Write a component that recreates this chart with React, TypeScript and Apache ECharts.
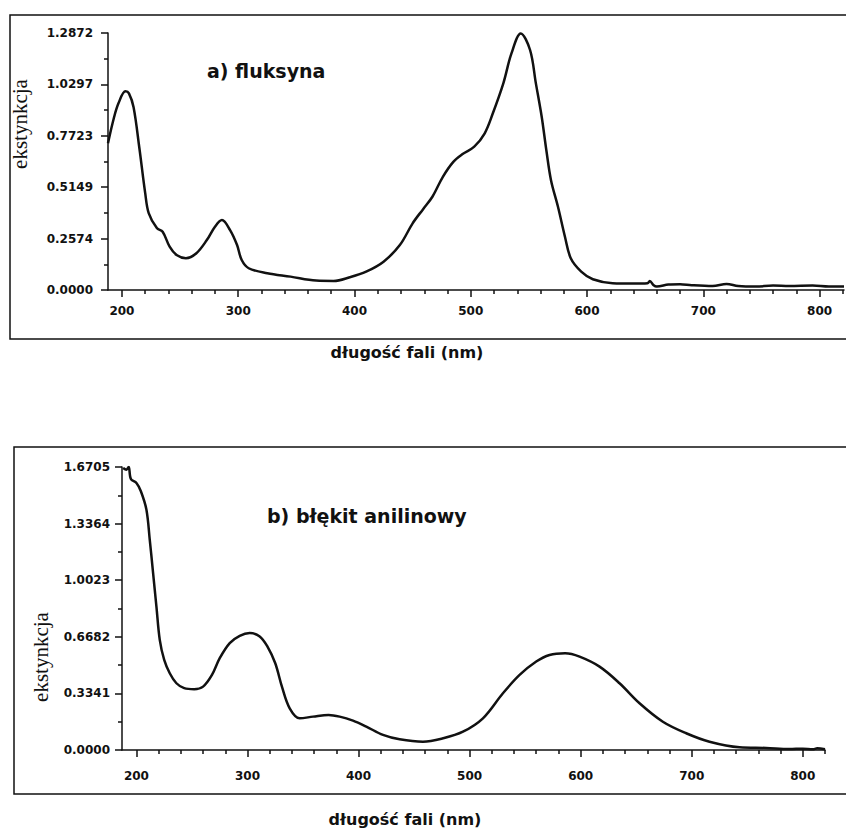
import React, { useEffect, useRef } from "react";
import * as echarts from "echarts";

// ---- data: a) fluksyna ----
const waveA = [188, 193, 197, 203, 206, 210, 215, 220, 223, 230, 235, 241, 247, 255, 264, 273, 280, 286, 293, 299, 303, 309, 325, 345, 367, 382, 396, 410, 425, 439, 450, 459, 467, 476, 485, 493, 503, 512, 519, 528, 535, 543, 551, 556, 561, 565, 569, 575, 581, 586, 595, 605, 622, 640, 652, 654, 657, 660, 670, 680, 690, 708, 720, 730, 745, 760, 774, 794, 808, 821];
const absA = [0.735, 0.86, 0.935, 0.995, 0.985, 0.915, 0.71, 0.485, 0.385, 0.31, 0.292, 0.217, 0.175, 0.159, 0.184, 0.25, 0.317, 0.35, 0.3, 0.225, 0.15, 0.109, 0.084, 0.067, 0.047, 0.045, 0.064, 0.092, 0.142, 0.225, 0.334, 0.405, 0.467, 0.567, 0.642, 0.681, 0.718, 0.785, 0.885, 1.035, 1.185, 1.285, 1.202, 1.035, 0.868, 0.7, 0.55, 0.417, 0.267, 0.159, 0.092, 0.054, 0.034, 0.032, 0.034, 0.045, 0.025, 0.017, 0.027, 0.029, 0.024, 0.02, 0.03, 0.02, 0.017, 0.022, 0.02, 0.022, 0.017, 0.017];

// ---- data: b) błękit anilinowy ----
const waveB = [188, 191, 193, 195, 200, 204, 209, 212, 215, 218, 221, 225, 230, 236, 243, 252, 260, 268, 275, 284, 293, 302, 311, 318, 325, 331, 338, 347, 359, 373, 383, 395, 407, 422, 437, 458, 476, 494, 512, 530, 545, 560, 572, 586, 599, 617, 635, 653, 674, 695, 716, 743, 767, 788, 800, 809, 813, 820];
const absB = [1.665, 1.655, 1.67, 1.6, 1.576, 1.527, 1.418, 1.241, 1.044, 0.847, 0.65, 0.532, 0.453, 0.394, 0.365, 0.359, 0.374, 0.443, 0.542, 0.631, 0.674, 0.69, 0.67, 0.61, 0.512, 0.374, 0.246, 0.187, 0.197, 0.207, 0.197, 0.173, 0.138, 0.089, 0.063, 0.049, 0.069, 0.108, 0.187, 0.335, 0.443, 0.522, 0.561, 0.571, 0.551, 0.492, 0.394, 0.276, 0.167, 0.099, 0.049, 0.016, 0.012, 0.006, 0.008, 0.004, 0.01, 0.005];

// ---- ticks ----
const xMajor = [200, 300, 400, 500, 600, 700, 800];
const xMinor = [220, 240, 260, 280, 320, 340, 360, 380, 420, 440, 460, 480, 520, 540, 560, 580, 620, 640, 660, 680, 720, 740, 760, 780, 820];
const yTicksA = ["0.0000", "0.2574", "0.5149", "0.7723", "1.0297", "1.2872"];
const yTicksB = ["0.0000", "0.3341", "0.6682", "1.0023", "1.3364", "1.6705"];

// ---- texts ----
const titleA = "a) fluksyna";
const titleB = "b) błękit anilinowy";
const xName = "długość fali (nm)";
const yName = "ekstynkcja";

const INK = "#111";
const SANS = "'DejaVu Sans', sans-serif";
const SERIF = "'Liberation Serif', 'DejaVu Serif', serif";

export default function App() {
  const ref = useRef<HTMLDivElement>(null);

  useEffect(() => {
    if (!ref.current) return;
    const chart = echarts.init(ref.current, undefined, { renderer: "svg" });

    const yVals = (labels: string[]) => labels.map((s) => parseFloat(s));
    const yMid = (labels: string[]) => {
      const v = yVals(labels);
      return v.slice(0, -1).map((a, i) => (a + v[i + 1]) / 2);
    };

    const axisLine = { show: true, onZero: false, lineStyle: { color: INK, width: 1.5 } };
    const labelStyle = { color: INK, fontFamily: SANS, fontWeight: "bold" as const, fontSize: 12 };

    const makeX = (grid: number, min: number, max: number, margin: number) => [
      {
        type: "value", gridIndex: grid, position: "bottom", min, max,
        axisLine,
        splitLine: { show: false },
        axisTick: { show: true, customValues: xMajor, length: 7, lineStyle: { color: INK, width: 1.5 } },
        axisLabel: { show: true, customValues: xMajor, margin, ...labelStyle, formatter: (v: number) => String(v) },
      },
      {
        type: "value", gridIndex: grid, position: "bottom", min, max,
        axisLine: { show: false, onZero: false },
        splitLine: { show: false },
        axisTick: { show: true, customValues: xMinor, length: 4, lineStyle: { color: INK, width: 1.5 } },
        axisLabel: { show: false },
      },
    ];

    const makeY = (grid: number, labels: string[], margin: number) => {
      const vals = yVals(labels);
      const max = vals[vals.length - 1];
      return [
        {
          type: "value", gridIndex: grid, position: "left", min: 0, max,
          axisLine,
          splitLine: { show: false },
          axisTick: { show: true, customValues: vals, length: 7, lineStyle: { color: INK, width: 1.5 } },
          axisLabel: {
            show: true, customValues: vals, margin, ...labelStyle,
            formatter: (v: number) => labels[vals.findIndex((x) => Math.abs(x - v) < 1e-6)] ?? v.toFixed(4),
          },
        },
        {
          type: "value", gridIndex: grid, position: "left", min: 0, max,
          axisLine: { show: false, onZero: false },
          splitLine: { show: false },
          axisTick: { show: true, customValues: yMid(labels), length: 4, lineStyle: { color: INK, width: 1.5 } },
          axisLabel: { show: false },
        },
      ];
    };

    const zip = (xs: number[], ys: number[]) => xs.map((x, i) => [x, ys[i]]);

    const option: any = {
      animation: false,
      backgroundColor: "#fff",
      grid: [
        { left: 108, top: 33, width: 736, height: 257, containLabel: false, outerBoundsMode: "none" },
        { left: 122, top: 467, width: 703, height: 283, containLabel: false, outerBoundsMode: "none" },
      ],
      xAxis: [...makeX(0, 188, 821, 15), ...makeX(1, 187, 820, 20)],
      yAxis: [...makeY(0, yTicksA, 15), ...makeY(1, yTicksB, 12)],
      series: [
        {
          type: "line", xAxisIndex: 0, yAxisIndex: 0, data: zip(waveA, absA),
          showSymbol: false, smooth: 0.35, lineStyle: { color: INK, width: 2.5 },
        },
        {
          type: "line", xAxisIndex: 2, yAxisIndex: 2, data: zip(waveB, absB),
          showSymbol: false, smooth: 0.35, lineStyle: { color: INK, width: 2.5 },
        },
      ],
      graphic: [
        { type: "rect", shape: { x: 10, y: 15, width: 900, height: 324 }, style: { fill: "none", stroke: INK, lineWidth: 1.5 }, silent: true },
        { type: "rect", shape: { x: 14, y: 447, width: 900, height: 347 }, style: { fill: "none", stroke: INK, lineWidth: 1.5 }, silent: true },
        { type: "text", x: 207, y: 71, style: { text: titleA, font: `bold 19px ${SANS}`, fill: INK, textAlign: "left", textVerticalAlign: "middle" } },
        { type: "text", x: 267, y: 516, style: { text: titleB, font: `bold 19px ${SANS}`, fill: INK, textAlign: "left", textVerticalAlign: "middle" } },
        { type: "text", x: 407, y: 352, style: { text: xName, font: `bold 16px ${SANS}`, fill: INK, textAlign: "center", textVerticalAlign: "middle" } },
        { type: "text", x: 405, y: 819, style: { text: xName, font: `bold 16px ${SANS}`, fill: INK, textAlign: "center", textVerticalAlign: "middle" } },
        { type: "text", x: 20, y: 124, rotation: Math.PI / 2, style: { text: yName, font: `21px ${SERIF}`, fill: INK, textAlign: "center", textVerticalAlign: "middle" } },
        { type: "text", x: 41, y: 657, rotation: Math.PI / 2, style: { text: yName, font: `21px ${SERIF}`, fill: INK, textAlign: "center", textVerticalAlign: "middle" } },
      ],
    };

    chart.setOption(option);
    return () => chart.dispose();
  }, []);

  return (
    <div
      ref={ref}
      style={{ position: "absolute", left: 0, top: 0, width: 846, height: 830, background: "#fff" }}
    />
  );
}
